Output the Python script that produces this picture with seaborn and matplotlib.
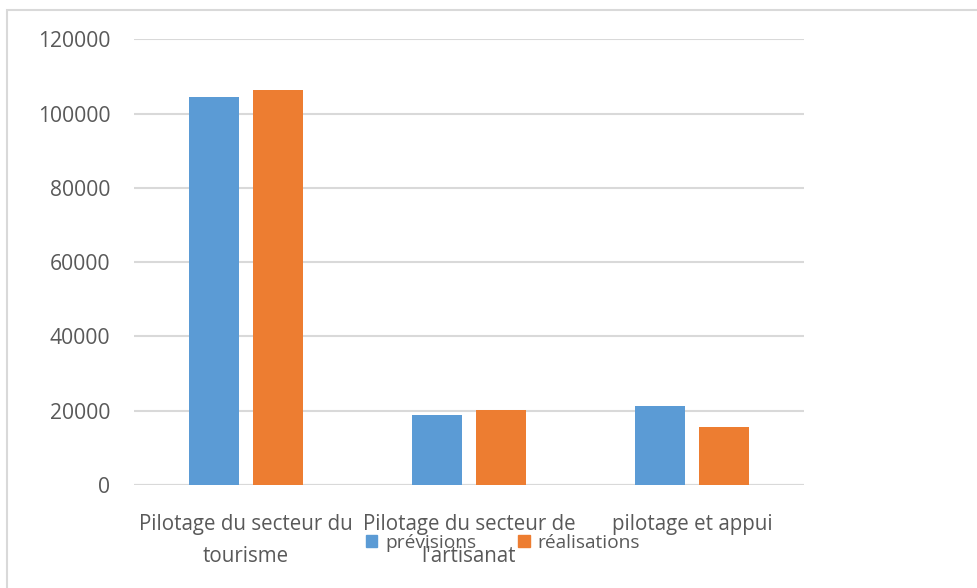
import matplotlib.pyplot as plt
import pandas as pd
import seaborn as sns
from matplotlib.patches import Rectangle

CATEGORIES = [
    "Pilotage du secteur du\ntourisme",
    "Pilotage du secteur de\nl'artisanat",
    "pilotage et appui",
]
PREVISIONS = [104500, 18900, 21200]
REALISATIONS = [106400, 20200, 15600]
SERIES = ["prévisions", "réalisations"]
Y_TICKS = [0, 20000, 40000, 60000, 80000, 100000, 120000]

TEXT = "#595959"
GRID = "#D9D9D9"
PALETTE = {"prévisions": "#5B9BD5", "réalisations": "#ED7D31"}

sns.set_theme(style="white")
plt.rcParams["font.family"] = ["Open Sans", "DejaVu Sans"]

df = pd.DataFrame(
    {
        "cat": CATEGORIES * 2,
        "serie": [SERIES[0]] * 3 + [SERIES[1]] * 3,
        "value": PREVISIONS + REALISATIONS,
    }
)

fig = plt.figure(figsize=(9.78, 5.88), dpi=100)
ax = fig.add_axes([134 / 978, 1 - 485 / 588, 670 / 978, (485 - 39.3) / 588])

sns.barplot(
    data=df, x="cat", y="value", hue="serie", hue_order=SERIES,
    palette=PALETTE, width=0.573, gap=0.22, ax=ax, legend=False,
    edgecolor="none", saturation=1,
)

ax.set_ylim(0, 120000)
ax.set_xlim(-0.5, 2.5)
ax.set_yticks(Y_TICKS)
ax.set_yticklabels([str(t) for t in Y_TICKS])
ax.yaxis.grid(True, color=GRID, linewidth=1.5)
ax.set_axisbelow(True)
ax.set_xlabel("")
ax.set_ylabel("")
for s in ax.spines.values():
    s.set_visible(False)
ax.axhline(0, color=GRID, linewidth=1.5, zorder=0)

ax.tick_params(axis="y", length=0, pad=17, labelsize=15.2, labelcolor=TEXT)
ax.tick_params(axis="x", length=0, pad=21, labelsize=14.8, labelcolor=TEXT)
for lbl in ax.get_xticklabels():
    lbl.set_linespacing(1.65)

handles = [Rectangle((0, 0), 1, 1, color=PALETTE[s]) for s in SERIES]
fig.legend(
    handles, SERIES, loc="center", bbox_to_anchor=(503 / 978, 1 - 543 / 588),
    ncol=2, frameon=False, fontsize=13.8, labelcolor=TEXT,
    handlelength=0.6, handleheight=0.6, handletextpad=0.4, columnspacing=2.2,
)

fig.patches.append(
    Rectangle((7.5 / 978, -0.1), 1.2, 1.1 - 10.5 / 588, transform=fig.transFigure,
              fill=False, edgecolor=GRID, linewidth=1.5)
)

fig.savefig("out.png", dpi=100)
